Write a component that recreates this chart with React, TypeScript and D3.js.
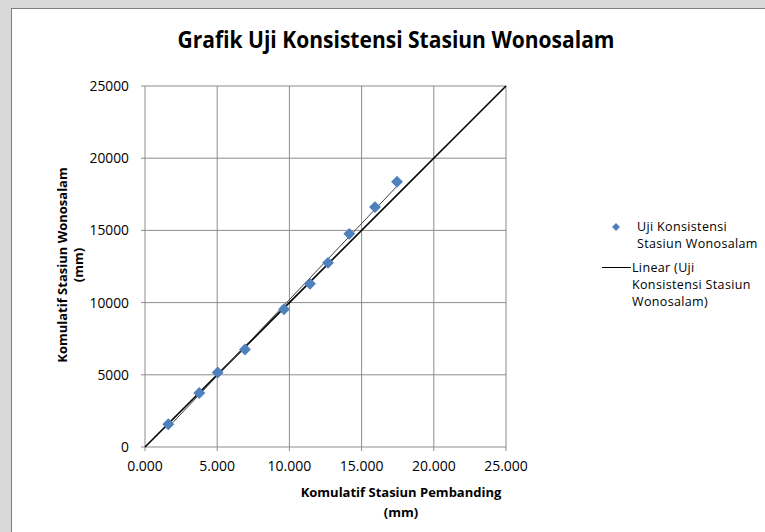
import React from "react";
import * as d3 from "d3";

const xValues = [1614, 3760, 5035, 6925, 9626, 11427, 12673, 14150, 15928, 17452];
const yValues = [1573, 3743, 5157, 6750, 9544, 11300, 12753, 14763, 16613, 18367];
const xTicks = [0, 5000, 10000, 15000, 20000, 25000];
const yTicks = [0, 5000, 10000, 15000, 20000, 25000];
const title = "Grafik Uji Konsistensi Stasiun Wonosalam";
const xLabel = ["Komulatif Stasiun Pembanding", "(mm)"];
const yLabel = ["Komulatif Stasiun Wonosalam", "(mm)"];
const legend1 = ["Uji Konsistensi", "Stasiun Wonosalam"];
const legend2 = ["Linear (Uji", "Konsistensi Stasiun", "Wonosalam)"];

export default function App() {
  const W = 765, H = 532;
  const left = 145, right = 506, top = 86, bottom = 447;
  const x = d3.scaleLinear().domain([0, 25000]).range([left, right]);
  const y = d3.scaleLinear().domain([0, 25000]).range([bottom, top]);
  const fmtX = (v: number) => d3.format(".3f")(v / 1000);
  const font = "'Open Sans', sans-serif";
  const grid = "#8c8c8c";

  const n = xValues.length;
  const mx = d3.mean(xValues)!;
  const my = d3.mean(yValues)!;
  let sxy = 0, sxx = 0;
  for (let i = 0; i < n; i++) {
    sxy += (xValues[i] - mx) * (yValues[i] - my);
    sxx += (xValues[i] - mx) ** 2;
  }
  const slope = sxy / sxx;
  const icpt = my - slope * mx;
  const x0 = d3.min(xValues)!, x1 = d3.max(xValues)!;
  const line = d3.line<[number, number]>().x((d) => x(d[0])).y((d) => y(d[1]));
  const diamond = d3.symbol().type(d3.symbolDiamond2).size(90)()!;

  return (
    <svg width={W} height={H} style={{ position: "absolute", left: 0, top: 0 }} fontFamily={font}>
      <rect x={0} y={0} width={W} height={H} fill="#d9d9d9" />
      <rect x={11.5} y={8.5} width={W} height={H} fill="#ffffff" stroke="#7f7f7f" strokeWidth={1} />
      <text x={396} y={48} textAnchor="middle" fontSize={24} fontWeight="bold" fill="#000" textLength={437} lengthAdjust="spacingAndGlyphs">{title}</text>

      {xTicks.map((t) => (
        <line key={"gx" + t} x1={x(t)} x2={x(t)} y1={top} y2={bottom + 4} stroke={grid} strokeWidth={1} />
      ))}
      {yTicks.map((t) => (
        <line key={"gy" + t} x1={left - 4} x2={right} y1={y(t)} y2={y(t)} stroke={grid} strokeWidth={1} />
      ))}
      {xTicks.map((t) => (
        <text key={"tx" + t} x={x(t)} y={471} textAnchor="middle" fontSize={14} fill="#000">{fmtX(t)}</text>
      ))}
      {yTicks.map((t) => (
        <text key={"ty" + t} x={129} y={y(t) + 5} textAnchor="end" fontSize={13.8} fill="#000">{t}</text>
      ))}

      <path d={line([[0, 0], [25000, 25000]])!} stroke="#000" strokeWidth={1.6} fill="none" />
      <path d={line([[x0, icpt + slope * x0], [x1, icpt + slope * x1]])!} stroke="#404040" strokeWidth={1} fill="none" />
      {xValues.map((v, i) => (
        <path key={"p" + i} d={diamond} transform={`translate(${x(v)},${y(yValues[i])})`} fill="#4f81bd" />
      ))}

      <text x={401} y={497} textAnchor="middle" fontSize={13} fontWeight="bold" fill="#000">{xLabel[0]}</text>
      <text x={401} y={517} textAnchor="middle" fontSize={13} fontWeight="bold" fill="#000">{xLabel[1]}</text>
      <g transform="translate(67,265) rotate(-90)">
        <text x={0} y={0} textAnchor="middle" fontSize={13} fontWeight="bold" fill="#000">{yLabel[0]}</text>
        <text x={0} y={16} textAnchor="middle" fontSize={13} fontWeight="bold" fill="#000">{yLabel[1]}</text>
      </g>

      <path d={d3.symbol().type(d3.symbolDiamond2).size(40)()!} transform="translate(616,227)" fill="#4f81bd" />
      {legend1.map((s, i) => (
        <text key={"l1" + i} x={637} y={231 + i * 17} fontSize={12.5} letterSpacing={0.35} fill="#000">{s}</text>
      ))}
      <line x1={602} x2={631} y1={267.5} y2={267.5} stroke="#000" strokeWidth={1} />
      {legend2.map((s, i) => (
        <text key={"l2" + i} x={632} y={272 + i * 17} fontSize={12.5} letterSpacing={0.35} fill="#000">{s}</text>
      ))}
    </svg>
  );
}
